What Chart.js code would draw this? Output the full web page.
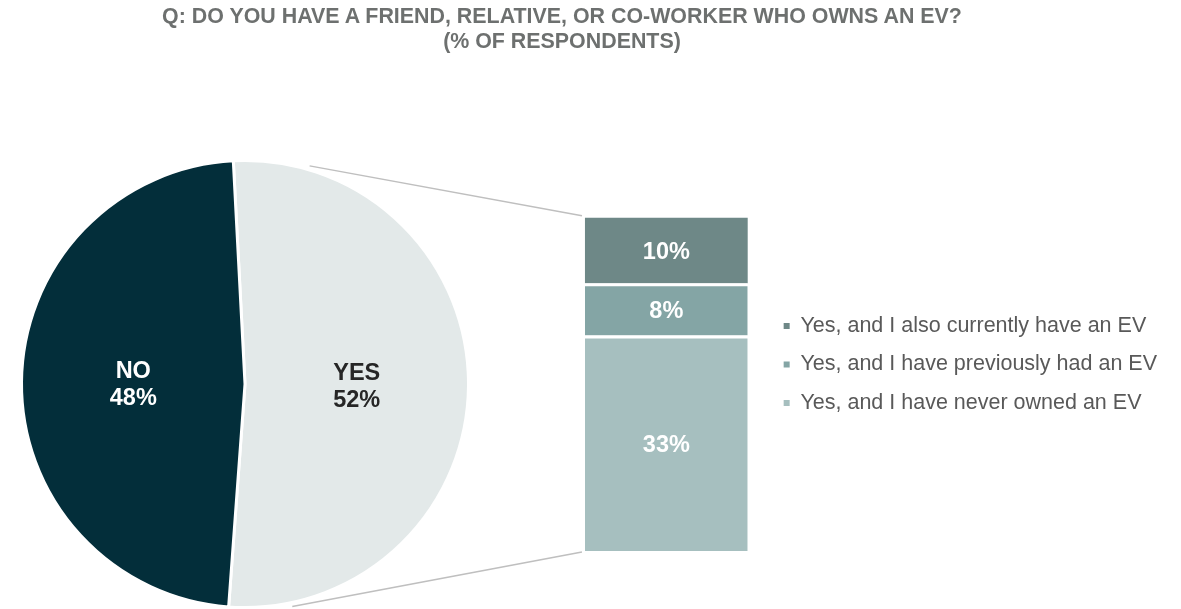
<!DOCTYPE html>
<html>
<head>
<meta charset="utf-8">
<title>Friend, relative or co-worker who owns an EV</title>
<script src="https://cdn.jsdelivr.net/npm/chart.js@4.4.1/dist/chart.umd.min.js"></script>
<style>
  html, body { margin: 0; padding: 0; background: #fff; }
  #wrap { position: relative; width: 1181px; height: 609px; overflow: hidden; }
  #wrap canvas { position: absolute; left: 0; top: 0; }
  #title {
    position: absolute; left: 0; top: 4px; width: 1124px; text-align: center;
    font: bold 21.4px "Liberation Sans", Arial, sans-serif; line-height: 25px; color: #6d706f;
  }
</style>
</head>
<body>
<div id="wrap">
  <canvas id="pie" width="1181" height="609"></canvas>
  <canvas id="bar" width="1181" height="609"></canvas>
  <div id="title">Q: DO YOU HAVE A FRIEND, RELATIVE, OR CO-WORKER WHO OWNS AN EV?<br>(% OF RESPONDENTS)</div>
</div>
<script>
// main answer split
const answerLabels = ['YES', 'NO'];
const answerShares = [52, 48];

// breakdown of the YES answers, bottom segment first
const yesLabels = [
  'Yes, and I have never owned an EV',
  'Yes, and I have previously had an EV',
  'Yes, and I also currently have an EV'
];
const yesShares = [33, 8, 10];

const answerColors = ['#e3e9e9', '#032e3a'];
const answerTextColors = ['#262626', '#ffffff'];
const yesColors = ['#a6bfbf', '#84a5a5', '#6e8887'];

const FONT = '"Liberation Sans", Arial, sans-serif';

// NO / YES text inside each slice
const sliceLabels = {
  id: 'sliceLabels',
  afterDatasetsDraw(chart) {
    const ctx = chart.ctx;
    ctx.save();
    ctx.font = 'bold 23.5px ' + FONT;
    ctx.textAlign = 'center';
    ctx.textBaseline = 'alphabetic';
    chart.getDatasetMeta(0).data.forEach((arc, i) => {
      const p = arc.tooltipPosition();
      ctx.fillStyle = answerTextColors[i];
      ctx.fillText(answerLabels[i], p.x, p.y - 5);
      ctx.fillText(answerShares[i] + '%', p.x, p.y + 22);
    });
    ctx.restore();
  }
};

const pieChart = new Chart(document.getElementById('pie'), {
  type: 'pie',
  data: {
    labels: answerLabels,
    datasets: [{
      data: answerShares,
      backgroundColor: answerColors,
      borderColor: '#ffffff',
      borderWidth: 3
    }]
  },
  options: {
    responsive: false,
    animation: false,
    rotation: -3,
    layout: { padding: { left: 20, top: 159, right: 711, bottom: 0 } },
    plugins: { legend: { display: false }, tooltip: { enabled: false } }
  },
  plugins: [sliceLabels]
});

// grey lines from the YES slice to the stacked bar
const connectors = {
  id: 'connectors',
  beforeDatasetsDraw(chart) {
    const arc = pieChart.getDatasetMeta(0).data[0];
    const top = chart.getDatasetMeta(yesShares.length - 1).data[0];
    const bottom = chart.getDatasetMeta(0).data[0];
    const r = arc.outerRadius + 4;
    const lines = [
      [16.5, top.x - top.width / 2 - 3, top.y - 2],
      [168, bottom.x - bottom.width / 2 - 3, bottom.base + 1]
    ];
    const ctx = chart.ctx;
    ctx.save();
    ctx.strokeStyle = '#bfbfbf';
    ctx.lineWidth = 1.5;
    lines.forEach(([deg, ex, ey]) => {
      const a = deg * Math.PI / 180;
      ctx.beginPath();
      ctx.moveTo(arc.x + Math.sin(a) * r, arc.y - Math.cos(a) * r);
      ctx.lineTo(ex, ey);
      ctx.stroke();
    });
    ctx.restore();
  }
};

// percentage inside each bar segment
const segmentLabels = {
  id: 'segmentLabels',
  afterDatasetsDraw(chart) {
    const ctx = chart.ctx;
    ctx.save();
    ctx.font = 'bold 23.5px ' + FONT;
    ctx.fillStyle = '#ffffff';
    ctx.textAlign = 'center';
    ctx.textBaseline = 'alphabetic';
    yesShares.forEach((v, i) => {
      const bar = chart.getDatasetMeta(i).data[0];
      ctx.fillText(v + '%', bar.x, (bar.y + bar.base) / 2 + 8.5);
    });
    ctx.restore();
  }
};

const barChart = new Chart(document.getElementById('bar'), {
  type: 'bar',
  data: {
    labels: ['YES'],
    datasets: yesLabels.map((label, i) => ({
      label: label,
      data: [yesShares[i]],
      backgroundColor: yesColors[i],
      borderColor: '#ffffff',
      borderWidth: i < yesShares.length - 1 ? { top: 3, right: 0, bottom: 0, left: 0 } : 0,
      barPercentage: 0.811,
      categoryPercentage: 1
    }))
  },
  options: {
    responsive: false,
    animation: false,
    layout: { padding: { left: 566, right: 14, top: 178, bottom: 58 } },
    scales: {
      x: { stacked: true, display: false },
      y: { stacked: true, display: false, min: 0, max: 57.1 }
    },
    plugins: {
      tooltip: { enabled: false },
      legend: {
        position: 'right',
        reverse: true,
        maxWidth: 600,
        labels: {
          boxWidth: 6,
          boxHeight: 6,
          padding: 17,
          textAlign: 'left',
          color: '#595959',
          font: { family: FONT, size: 21.5 },
          generateLabels(chart) {
            return Chart.defaults.plugins.legend.labels.generateLabels(chart)
              .map(item => Object.assign(item, { lineWidth: 0, strokeStyle: 'transparent' }));
          }
        }
      }
    }
  },
  plugins: [connectors, segmentLabels]
});
</script>
</body>
</html>
